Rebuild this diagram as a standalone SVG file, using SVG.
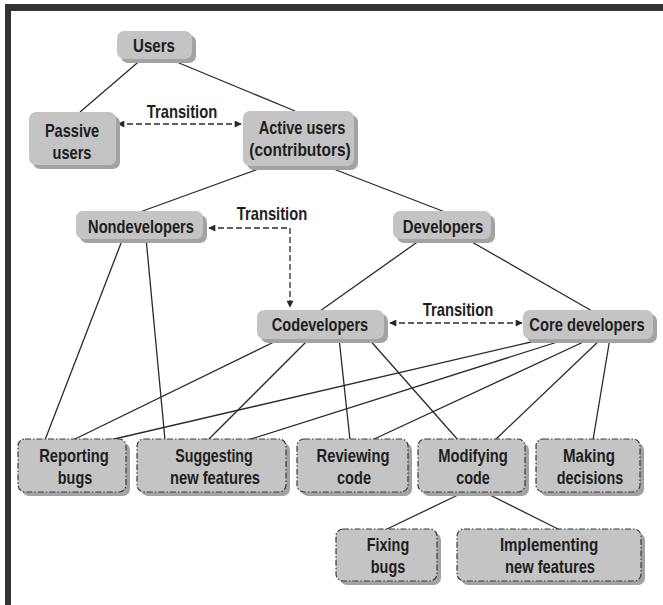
<svg xmlns="http://www.w3.org/2000/svg" width="663" height="605" viewBox="0 0 663 605">
<defs>
<style>
.bg{fill:#ffffff}
.frame{fill:#333333}
.sh{fill:#a3a3a3}
.bd{fill:#c4c4c4}
.bd2{fill:#c4c4c4;stroke:#3a3a3a;stroke-width:1.2;stroke-dasharray:6,2,1.5,2}
.t{font-family:"Liberation Sans",Arial,sans-serif;font-weight:bold;font-size:18px;fill:#1e1e1e;text-anchor:middle}
.c{stroke:#2a2a2a;stroke-width:1.3;fill:none}
.d{stroke:#2a2a2a;stroke-width:1.3;fill:none;stroke-dasharray:6,3}
</style>
<marker id="ah" viewBox="0 0 10 10" refX="9" refY="5" markerWidth="9" markerHeight="7" markerUnits="userSpaceOnUse" orient="auto-start-reverse">
<path d="M0,0 L10,5 L0,10 z" fill="#2a2a2a"/>
</marker>
</defs>
<rect class="bg" x="0" y="0" width="663" height="605"/>
<rect class="frame" x="5" y="4" width="658" height="7"/>
<rect class="frame" x="5" y="4" width="6" height="601"/>

<g id="connectors">
<line class="c" x1="143" y1="58" x2="80" y2="112"/>
<line class="c" x1="167" y1="58" x2="295" y2="111"/>
<line class="c" x1="275" y1="163" x2="140" y2="212"/>
<line class="c" x1="318" y1="163" x2="445" y2="212"/>
<line class="c" x1="423" y1="238" x2="320" y2="311"/>
<line class="c" x1="465" y1="238" x2="592" y2="311"/>
<line class="c" x1="123" y1="238" x2="45" y2="440"/>
<line class="c" x1="146" y1="238" x2="165" y2="440"/>
<line class="c" x1="282" y1="338" x2="73" y2="440"/>
<line class="c" x1="310" y1="338" x2="208" y2="440"/>
<line class="c" x1="339" y1="338" x2="350" y2="440"/>
<line class="c" x1="368" y1="338" x2="458" y2="440"/>
<line class="c" x1="548" y1="338" x2="110" y2="440"/>
<line class="c" x1="570" y1="338" x2="248" y2="440"/>
<line class="c" x1="592" y1="338" x2="372" y2="440"/>
<line class="c" x1="602" y1="338" x2="495" y2="440"/>
<line class="c" x1="610" y1="338" x2="593" y2="440"/>
<line class="c" x1="460" y1="494" x2="385" y2="530"/>
<line class="c" x1="488" y1="494" x2="560" y2="530"/>
<line class="d" x1="118" y1="124" x2="241" y2="124" marker-start="url(#ah)" marker-end="url(#ah)"/>
<polyline class="d" points="209,228 290,228 290,307" marker-start="url(#ah)" marker-end="url(#ah)"/>
<line class="d" x1="390" y1="323" x2="522" y2="323" marker-start="url(#ah)" marker-end="url(#ah)"/>
<text class="t" transform="translate(182,118) scale(0.82,1)">Transition</text>
<text class="t" transform="translate(272,220) scale(0.82,1)">Transition</text>
<text class="t" transform="translate(458,316) scale(0.82,1)">Transition</text>
</g>

<g id="users">
<rect class="sh" x="121" y="35" width="75" height="28" rx="7"/>
<rect class="bd" x="117" y="31" width="75" height="28" rx="7"/>
<text class="t" transform="translate(154,52) scale(0.84,1)">Users</text>
</g>
<g id="passive">
<rect class="sh" x="33" y="116" width="87" height="53" rx="7"/>
<rect class="bd" x="29" y="112" width="87" height="53" rx="7"/>
<text class="t" transform="translate(72,137) scale(0.81,1)">Passive</text>
<text class="t" transform="translate(72,159) scale(0.81,1)">users</text>
</g>
<g id="active">
<rect class="sh" x="247" y="115" width="111" height="55" rx="7"/>
<rect class="bd" x="243" y="111" width="111" height="55" rx="7"/>
<text class="t" transform="translate(302,134) scale(0.81,1)">Active users</text>
<text class="t" transform="translate(300,156) scale(0.86,1)">(contributors)</text>
</g>
<g id="nondevelopers">
<rect class="sh" x="80" y="215" width="127" height="28" rx="7"/>
<rect class="bd" x="76" y="211" width="127" height="28" rx="7"/>
<text class="t" transform="translate(141,233) scale(0.815,1)">Nondevelopers</text>
</g>
<g id="developers">
<rect class="sh" x="397" y="215" width="98" height="28" rx="7"/>
<rect class="bd" x="393" y="211" width="98" height="28" rx="7"/>
<text class="t" transform="translate(443,233) scale(0.83,1)">Developers</text>
</g>
<g id="codevelopers">
<rect class="sh" x="261" y="314" width="127" height="29" rx="7"/>
<rect class="bd" x="257" y="310" width="127" height="29" rx="7"/>
<text class="t" transform="translate(320,331) scale(0.81,1)">Codevelopers</text>
</g>
<g id="core">
<rect class="sh" x="527" y="314" width="130" height="29" rx="7"/>
<rect class="bd" x="523" y="310" width="130" height="29" rx="7"/>
<text class="t" transform="translate(587,331) scale(0.82,1)">Core developers</text>
</g>

<g id="reporting">
<rect class="sh" x="22" y="443" width="108" height="53" rx="7"/>
<rect class="bd2" x="18" y="439" width="108" height="53" rx="7"/>
<text class="t" transform="translate(74,462) scale(0.82,1)">Reporting</text>
<text class="t" transform="translate(75,484) scale(0.8,1)">bugs</text>
</g>
<g id="suggesting">
<rect class="sh" x="141" y="443" width="149" height="53" rx="7"/>
<rect class="bd2" x="137" y="439" width="149" height="53" rx="7"/>
<text class="t" transform="translate(214,462) scale(0.79,1)">Suggesting</text>
<text class="t" transform="translate(215,484) scale(0.82,1)">new features</text>
</g>
<g id="reviewing">
<rect class="sh" x="301" y="443" width="111" height="53" rx="7"/>
<rect class="bd2" x="297" y="439" width="111" height="53" rx="7"/>
<text class="t" transform="translate(353,462) scale(0.82,1)">Reviewing</text>
<text class="t" transform="translate(354,484) scale(0.81,1)">code</text>
</g>
<g id="modifying">
<rect class="sh" x="422" y="443" width="107" height="53" rx="7"/>
<rect class="bd2" x="418" y="439" width="107" height="53" rx="7"/>
<text class="t" transform="translate(473,462) scale(0.82,1)">Modifying</text>
<text class="t" transform="translate(473,484) scale(0.8,1)">code</text>
</g>
<g id="making">
<rect class="sh" x="540" y="443" width="104" height="53" rx="7"/>
<rect class="bd2" x="536" y="439" width="104" height="53" rx="7"/>
<text class="t" transform="translate(589,462) scale(0.84,1)">Making</text>
<text class="t" transform="translate(590,484) scale(0.8,1)">decisions</text>
</g>
<g id="fixing">
<rect class="sh" x="340" y="533" width="101" height="52" rx="7"/>
<rect class="bd2" x="336" y="529" width="101" height="52" rx="7"/>
<text class="t" transform="translate(388,551) scale(0.8,1)">Fixing</text>
<text class="t" transform="translate(388,573) scale(0.8,1)">bugs</text>
</g>
<g id="implementing">
<rect class="sh" x="461" y="533" width="184" height="52" rx="7"/>
<rect class="bd2" x="457" y="529" width="184" height="52" rx="7"/>
<text class="t" transform="translate(549,551) scale(0.84,1)">Implementing</text>
<text class="t" transform="translate(550,573) scale(0.82,1)">new features</text>
</g>
</svg>
